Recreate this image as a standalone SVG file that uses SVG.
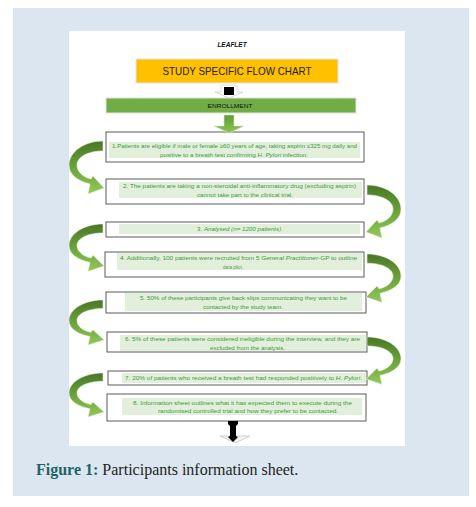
<svg xmlns="http://www.w3.org/2000/svg" width="476" height="507" viewBox="0 0 476 507">
<defs>
<style>
.box{fill:#fff;stroke:#5a5a5a;stroke-width:1}
.bg{fill:#e2efda}
.t{font-family:"Liberation Sans",Arial,sans-serif;font-size:5.8px;fill:#3f9a3f}
.i{font-style:italic}
.cap{font-family:"Liberation Serif","Times New Roman",serif;font-size:16px}
</style>
<linearGradient id="cg" x1="0" y1="0" x2="0" y2="1">
<stop offset="0" stop-color="#4a7626"/>
<stop offset="0.5" stop-color="#6aa33a"/>
<stop offset="1" stop-color="#93c95a"/>
</linearGradient>
<linearGradient id="dg" x1="0" y1="0" x2="0" y2="1">
<stop offset="0" stop-color="#5f9a35"/>
<stop offset="1" stop-color="#8cc653"/>
</linearGradient>
<path id="curve" d="M0,0 C-19,0 -34,11 -34,24 C-34,34 -25,40 -13,43 L-15,53 L1,47 L-10,35 L-12,38 C-21,36 -26,30 -26,24 C-26,16 -15,10 0,10 Z" fill="url(#cg)" stroke="#e6f0dc" stroke-width="0.6"/>
</defs>
<rect x="13" y="8" width="456" height="488" fill="#dce6f1"/>
<rect x="69" y="31" width="336" height="415" fill="#fff"/>

<g id="leaflet">
<text x="232" y="46.5" text-anchor="middle" font-family="Liberation Sans,Arial,sans-serif" font-size="6.5" font-weight="bold" font-style="italic" fill="#111">LEAFLET</text>
</g>

<g id="title">
<rect x="136" y="59" width="202" height="24" fill="#ffc000" stroke="#e4e4e4" stroke-width="1"/>
<text x="237" y="74.5" text-anchor="middle" font-family="Liberation Sans,Arial,sans-serif" font-size="10.5" fill="#222" textLength="149" lengthAdjust="spacingAndGlyphs">STUDY SPECIFIC FLOW CHART</text>
</g>

<g id="enrollment">
<rect x="106" y="98" width="250" height="15" fill="#70ad47" stroke="#e0e6da" stroke-width="1"/>
<text x="230" y="107.5" text-anchor="middle" font-family="Liberation Sans,Arial,sans-serif" font-size="6" fill="#111" textLength="45" lengthAdjust="spacingAndGlyphs">ENROLLMENT</text>
</g>

<g id="box1">
<rect class="box" x="106" y="132" width="258" height="30"/>
<rect class="bg" x="109" y="142" width="251" height="16"/>
<text class="t" x="112" y="148" textLength="245" lengthAdjust="spacingAndGlyphs">1.Patients are eligible if male or female ≥60 years of age, taking aspirin ≤325 mg daily and</text>
<text class="t" x="160" y="156.5" textLength="148" lengthAdjust="spacingAndGlyphs">positive to a breath test confirming <tspan class="i">H. Pylori</tspan> infection.</text>
</g>

<g id="box2">
<rect class="box" x="106" y="179" width="258" height="25"/>
<rect class="bg" x="119" y="182" width="243" height="16"/>
<text class="t" x="123" y="188" textLength="233" lengthAdjust="spacingAndGlyphs">2.   The patients are taking a non-steroidal anti-inflammatory drug (excluding aspirin)</text>
<text class="t" x="197" y="196.5" textLength="96" lengthAdjust="spacingAndGlyphs">cannot take part to the clinical trial.</text>
</g>

<g id="box3">
<rect class="box" x="106" y="222" width="258" height="15"/>
<rect class="bg" x="119" y="224" width="241" height="10"/>
<text class="t" x="197" y="231" textLength="86" lengthAdjust="spacingAndGlyphs">3.   <tspan class="i">Analysed (n= 1200 patients).</tspan></text>
</g>

<g id="box4">
<rect class="box" x="105" y="252" width="259" height="25"/>
<rect class="bg" x="117" y="253" width="245" height="17"/>
<text class="t" x="120" y="260" textLength="237" lengthAdjust="spacingAndGlyphs">4.   Additionally, 100 patients were recruited from 5 <tspan class="i">General Practitioner</tspan>-GP to outline</text>
<text class="t" x="223" y="268.5" textLength="20" lengthAdjust="spacingAndGlyphs">data pilot.</text>
</g>

<g id="box5">
<rect class="box" x="106" y="292" width="260" height="21"/>
<rect class="bg" x="125" y="293" width="237" height="18"/>
<text class="t" x="140" y="300" textLength="207" lengthAdjust="spacingAndGlyphs">5. 50% of these participants give back slips communicating they want to be</text>
<text class="t" x="203" y="308.5" textLength="80" lengthAdjust="spacingAndGlyphs">contacted by the study team.</text>
</g>

<g id="box6">
<rect class="box" x="107" y="332" width="260" height="20" stroke-width="1.3"/>
<rect class="bg" x="120" y="335" width="246" height="16"/>
<text class="t" x="125" y="341" textLength="235" lengthAdjust="spacingAndGlyphs">6.   5% of these patients were considered ineligible during the interview, and they are</text>
<text class="t" x="210" y="349.5" textLength="75" lengthAdjust="spacingAndGlyphs">excluded from the analysis.</text>
</g>

<g id="box7">
<rect class="box" x="108" y="371" width="259" height="14"/>
<rect class="bg" x="122" y="373" width="244" height="10"/>
<text class="t" x="125" y="379.8" textLength="237" lengthAdjust="spacingAndGlyphs">7.   20% of patients who received a breath test had responded positively to <tspan class="i">H. Pylori</tspan>.</text>
</g>

<g id="box8">
<rect class="box" x="107" y="394" width="259" height="27"/>
<rect class="bg" x="122" y="398" width="240" height="17"/>
<text class="t" x="133" y="404.5" textLength="219" lengthAdjust="spacingAndGlyphs">8.   Information sheet outlines what it has expected them to execute during the</text>
<text class="t" x="158" y="413" textLength="180" lengthAdjust="spacingAndGlyphs">randomised controlled trial and how they prefer to be contacted.</text>
</g>

<g id="connectors">
<path d="M221,85 L237,85 L237,92 L243,92 L229,98 L215,92 L221,92 Z" fill="#fff" stroke="#d0d0d0" stroke-width="0.8"/>
<rect x="224" y="87" width="10" height="8" fill="#000"/>
<path d="M224,115 L234,115 L234,126 L244,126 L229,133 L214,126 L224,126 Z" fill="url(#dg)" stroke="#d8e4d0" stroke-width="0.6"/>
<use href="#curve" transform="translate(103,141)"/>
<use href="#curve" transform="translate(103,224) scale(1,0.894)"/>
<use href="#curve" transform="translate(103,300) scale(1,0.851)"/>
<use href="#curve" transform="translate(103,373) scale(1,0.83)"/>
<use href="#curve" transform="translate(367,185) scale(-1,1)"/>
<use href="#curve" transform="translate(367,254) scale(-1,0.915)"/>
<use href="#curve" transform="translate(367,337) scale(-1,0.894)"/>
<path d="M220,436 L250,436 L235,443 Z" fill="#f4f4f4" stroke="#c8c8c8" stroke-width="0.8"/>
<path d="M228,421 L238,421 L238,424 L236,426 L236,436 L238,437 L233,442 L228,437 L230,436 L230,426 L228,424 Z" fill="#000"/>
</g>

<g id="caption">
<text class="cap" x="36" y="475"><tspan font-weight="bold" fill="#1c6466">Figure 1:</tspan><tspan fill="#231f20"> Participants information sheet.</tspan></text>
</g>
</svg>
